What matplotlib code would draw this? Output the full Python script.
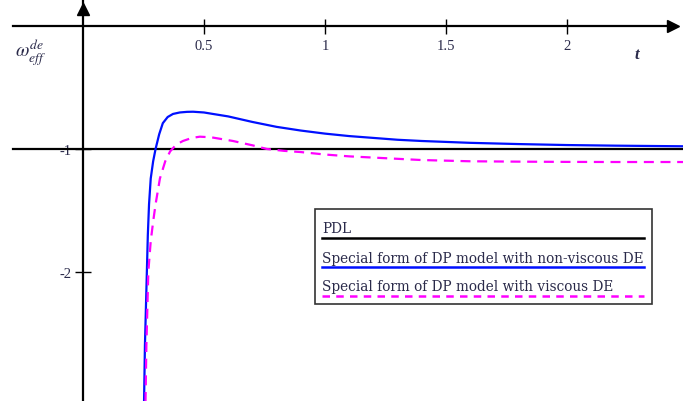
import matplotlib.pyplot as plt

plt.rcParams['axes.unicode_minus'] = False
plt.rcParams['mathtext.fontset'] = 'stix'

# values
x_ticks = [0.5, 1, 1.5, 2]
x_labels = ["0.5", "1", "1.5", "2"]
y_ticks = [-1, -2]
y_labels = ["-1", "-2"]

pdl_t = [-0.29, 2.48]
pdl_w = [-1.0, -1.0]

nv_t = [0.252, 0.256, 0.260, 0.264, 0.268, 0.273, 0.280, 0.290, 0.300, 0.315,
        0.330, 0.350, 0.372, 0.400, 0.430, 0.455, 0.500, 0.537, 0.600, 0.700,
        0.800, 0.900, 1.000, 1.100, 1.200, 1.300, 1.400, 1.600, 1.800, 2.000,
        2.200, 2.480]
nv_w = [-3.10, -2.60, -2.30, -2.00, -1.70, -1.45, -1.24, -1.10, -1.00, -0.88,
        -0.79, -0.74, -0.715, -0.703, -0.698, -0.697, -0.703, -0.715, -0.735, -0.78,
        -0.82, -0.85, -0.875, -0.895, -0.91, -0.925, -0.935, -0.95, -0.96, -0.968,
        -0.973, -0.978]

v_t = [0.258, 0.262, 0.266, 0.270, 0.280, 0.290, 0.300, 0.318, 0.340, 0.360,
       0.385, 0.413, 0.450, 0.483, 0.530, 0.620, 0.700, 0.760, 0.830, 0.900,
       1.000, 1.100, 1.200, 1.400, 1.600, 1.800, 2.000, 2.200, 2.480]
v_w = [-3.10, -2.60, -2.30, -2.00, -1.75, -1.59, -1.45, -1.24, -1.10, -1.02,
       -0.965, -0.935, -0.91, -0.90, -0.905, -0.935, -0.97, -1.00, -1.015, -1.025,
       -1.045, -1.06, -1.07, -1.09, -1.10, -1.103, -1.105, -1.106, -1.106]

legend_labels = ["PDL",
                 "Special form of DP model with non-viscous DE",
                 "Special form of DP model with viscous DE"]

txt_col = '#2a2a4a'

fig = plt.figure(figsize=(6.83, 4.02), dpi=100)
ax = fig.add_axes([0, 0, 1, 1])
ax.set_xlim(-0.343, 2.48)
ax.set_ylim(-3.05, 0.22)

# axes crossing at the origin
for side in ['top', 'right']:
    ax.spines[side].set_visible(False)
ax.spines['bottom'].set_position(('data', 0))
ax.spines['left'].set_position(('data', 0))
ax.spines['bottom'].set_bounds(-0.29, 2.44)
ax.spines['bottom'].set_linewidth(1.6)
ax.spines['left'].set_linewidth(1.6)
ax.plot(0.985, 0, '>k', ms=8, transform=ax.get_yaxis_transform(), clip_on=False)
ax.plot(0, 0.975, '^k', ms=8, transform=ax.get_xaxis_transform(), clip_on=False)

ax.set_xticks(x_ticks, x_labels)
ax.set_yticks(y_ticks, y_labels)
ax.tick_params(axis='x', direction='inout', length=10.8, width=1.0, pad=4,
               labelsize=10.5, labelcolor=txt_col)
ax.tick_params(axis='y', direction='inout', length=11.5, width=1.0, pad=2.5,
               labelsize=10.5, labelcolor=txt_col)
for lab in ax.get_xticklabels() + ax.get_yticklabels():
    lab.set_family('Liberation Serif')

# curves
ax.plot(pdl_t, pdl_w, color='black', lw=1.6, zorder=3)
ax.plot(nv_t, nv_w, color='#0010ff', lw=1.6, zorder=4)
ax.plot(v_t, v_w, color='#ff00ff', lw=1.6, ls=(0, (4.5, 3)), zorder=5)

# axis names
ax.text(31 / 683, 1 - 53 / 402, r'$\omega_{eff}^{de}$', transform=ax.transAxes,
        fontsize=14, color=txt_col, ha='center', va='center')
ax.text(637 / 683, 1 - 55 / 402, 't', transform=ax.transAxes, fontsize=12,
        family='Liberation Serif', style='italic', weight='bold', color=txt_col,
        ha='center', va='center')

# Mathcad style legend: text above a sample line
box = plt.Rectangle((315 / 683, 1 - 305 / 402), 337 / 683, 95 / 402,
                    transform=ax.transAxes, fill=True, fc='white', ec='#333333',
                    lw=1.2, zorder=6)
ax.add_patch(box)
styles = [dict(color='black', ls='-'),
          dict(color='#0010ff', ls='-'),
          dict(color='#ff00ff', ls=(0, (3, 2.5)))]
text_y = [233, 263, 291]
line_y = [239, 268, 297]
for lab, st, ty, ly in zip(legend_labels, styles, text_y, line_y):
    ax.text(322 / 683, 1 - ty / 402, lab, transform=ax.transAxes, fontsize=9.8,
            family='DejaVu Serif', color=txt_col, va='baseline', zorder=7)
    ax.plot([322 / 683, 644 / 683], [1 - ly / 402] * 2, transform=ax.transAxes,
            lw=1.8, zorder=7, **st)

fig.savefig('out.png', dpi=100)
